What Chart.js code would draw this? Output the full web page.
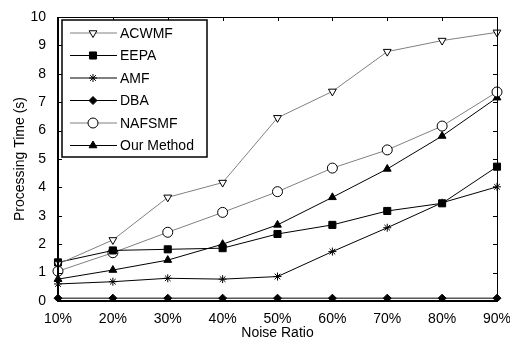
<!DOCTYPE html>
<html>
<head>
<meta charset="utf-8">
<script src="https://cdn.jsdelivr.net/npm/chart.js@4"></script>
<style>
  html, body { margin: 0; padding: 0; background: #fff; }
  #wrap { width: 510px; height: 342px; }
</style>
</head>
<body>
<div id="wrap"><canvas id="c" width="510" height="342"></canvas></div>
<script>
// data
const ratios = ['10%', '20%', '30%', '40%', '50%', '60%', '70%', '80%', '90%'];
const acwmf  = [1.30, 2.15, 3.65, 4.17, 6.45, 7.38, 8.78, 9.17, 9.46];
const eepa   = [1.36, 1.78, 1.82, 1.86, 2.36, 2.68, 3.17, 3.44, 4.73];
const amf    = [0.60, 0.68, 0.80, 0.77, 0.86, 1.74, 2.58, 3.46, 4.02];
const dba    = [0.10, 0.10, 0.10, 0.10, 0.10, 0.10, 0.10, 0.10, 0.10];
const nafsmf = [1.05, 1.70, 2.42, 3.12, 3.85, 4.68, 5.32, 6.16, 7.36];
const ours   = [0.77, 1.09, 1.44, 2.00, 2.68, 3.65, 4.65, 5.81, 7.16];
const yTicks = [0, 1, 2, 3, 4, 5, 6, 7, 8, 9, 10];

const FONT = 'Liberation Sans, Arial, sans-serif';
const GREY = '#808080';

function series(label, data, color, style, fill, size, rot) {
  return {
    label, data,
    borderColor: color, borderWidth: 1,
    pointStyle: style, pointRotation: rot || 0,
    pointRadius: size, pointBorderColor: '#000', pointBorderWidth: 1,
    pointBackgroundColor: fill,
    tension: 0
  };
}

const datasets = [
  series('ACWMF', acwmf, GREY, 'triangle', '#fff', 4.5, 180),
  series('EEPA', eepa, '#000', 'rect', '#000', 5),
  series('AMF', amf, '#000', 'star', '#000', 4),
  series('DBA', dba, '#000', 'rectRot', '#000', 4),
  series('NAFSMF', nafsmf, GREY, 'circle', '#fff', 5),
  series('Our Method', ours, '#000', 'triangle', '#000', 4.5)
];

// box, inward ticks and inner legend
const frame = {
  id: 'frame',
  afterDatasetsDraw(chart) {
    const ctx = chart.ctx, a = chart.chartArea;
    const xs = chart.scales.x, ys = chart.scales.y;
    ctx.save();
    ctx.strokeStyle = '#000';
    ctx.lineWidth = 1;
    ctx.strokeRect(a.left + 0.5, a.top + 0.5, a.right - a.left, a.bottom - a.top);
    ctx.lineWidth = 2;
    ctx.beginPath();
    ctx.moveTo(a.left, a.top); ctx.lineTo(a.left, a.bottom); ctx.lineTo(a.right, a.bottom);
    ctx.stroke();
    ctx.lineWidth = 1;
    ctx.beginPath();
    ratios.forEach((r, i) => {
      const x = Math.round(xs.getPixelForValue(i)) + 0.5;
      ctx.moveTo(x, a.bottom); ctx.lineTo(x, a.bottom - 4);
      ctx.moveTo(x, a.top); ctx.lineTo(x, a.top + 4);
    });
    yTicks.forEach(v => {
      const y = Math.round(ys.getPixelForValue(v)) + 0.5;
      ctx.moveTo(a.left, y); ctx.lineTo(a.left + 4, y);
      ctx.moveTo(a.right, y); ctx.lineTo(a.right - 4, y);
    });
    ctx.stroke();

    // legend
    const lx = 62, ly = 20, lw = 145, lh = 137;
    ctx.fillStyle = '#fff';
    ctx.fillRect(lx, ly, lw, lh);
    ctx.strokeStyle = '#000';
    ctx.lineWidth = 1.5;
    ctx.strokeRect(lx, ly, lw, lh);
    ctx.font = '14px ' + FONT;
    ctx.textBaseline = 'middle';
    chart.data.datasets.forEach((d, i) => {
      const y = 33 + i * 22.5;
      ctx.strokeStyle = d.borderColor;
      ctx.lineWidth = 1;
      ctx.beginPath(); ctx.moveTo(70, y); ctx.lineTo(117, y); ctx.stroke();
      ctx.fillStyle = d.pointBackgroundColor;
      ctx.strokeStyle = '#000';
      Chart.helpers.drawPoint(ctx, {
        pointStyle: d.pointStyle, rotation: d.pointRotation,
        radius: d.pointRadius, borderWidth: 1
      }, 93, y);
      ctx.fillStyle = '#000';
      ctx.fillText(d.label, 120, y + 1);
    });
    ctx.restore();
  }
};

new Chart(document.getElementById('c'), {
  type: 'line',
  data: { labels: ratios, datasets },
  plugins: [frame],
  options: {
    responsive: false,
    animation: false,
    layout: { padding: { top: 17, right: 13, left: 12, bottom: 0 } },
    plugins: { legend: { display: false }, tooltip: { enabled: false } },
    scales: {
      x: {
        type: 'category',
        offset: false,
        grid: { display: false },
        border: { display: false },
        ticks: { color: '#000', font: { family: FONT, size: 14 }, padding: 2, maxRotation: 0 },
        title: { display: true, text: 'Noise Ratio', color: '#000', font: { family: FONT, size: 14 }, padding: 0 },
        afterFit(s) { s.height = 41; s.paddingLeft = 0; s.paddingRight = 0; }
      },
      y: {
        min: 0, max: 10,
        grid: { display: false },
        border: { display: false },
        ticks: { stepSize: 1, color: '#000', font: { family: FONT, size: 14 }, padding: 4 },
        title: { display: true, text: 'Processing Time (s)', color: '#000', font: { family: FONT, size: 14 }, padding: 0 },
        afterFit(s) { s.width = 46; s.paddingTop = 0; s.paddingBottom = 0; }
      }
    }
  }
});
</script>
</body>
</html>
